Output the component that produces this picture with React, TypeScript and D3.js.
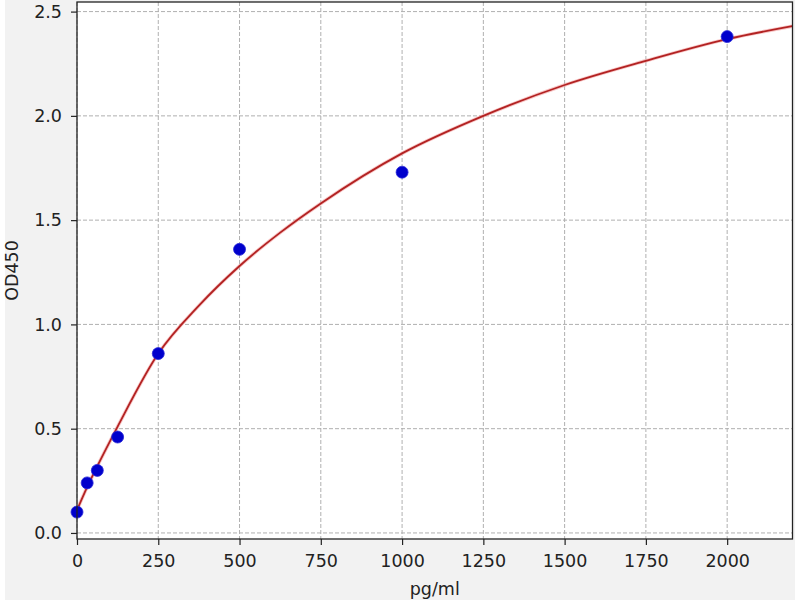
import { useEffect, useRef } from "react";
import * as d3 from "d3";

// standard concentrations (pg/ml) and measured OD450
const conc = [0, 31.25, 62.5, 125, 250, 500, 1000, 2000];
const od = [0.1, 0.24, 0.3, 0.46, 0.86, 1.36, 1.73, 2.38];

// fitted curve
const fitX = [0, 31.25, 62.5, 125, 250, 375, 500, 625, 750, 1000, 1250, 1500, 1750, 2000, 2200];
const fitY = [0.11, 0.22, 0.32, 0.51, 0.86, 1.09, 1.28, 1.44, 1.58, 1.82, 2.0, 2.148, 2.264, 2.368, 2.43];

const xTicks = [0, 250, 500, 750, 1000, 1250, 1500, 1750, 2000];
const yTicks = [0, 0.5, 1.0, 1.5, 2.0, 2.5];

const FONT = "'DejaVu Sans', sans-serif";
const FS = "17.5px";

export default function App() {
  const svgRef = useRef<SVGSVGElement>(null);

  useEffect(() => {
    document.body.style.margin = "0";
    if (!svgRef.current) return;
    const svg = d3.select(svgRef.current);
    svg.selectAll("*").remove();

    const W = 800;
    const H = 600;
    const left = 77;
    const right = 792.5;
    const top = 2;
    const bottom = 539;

    const x = d3.scaleLinear().domain([0, 2201]).range([left, right]);
    const y = d3.scaleLinear().domain([-0.029, 2.546]).range([bottom, top]);

    // figure background
    svg.append("rect").attr("width", W).attr("height", H).attr("fill", "#ffffff");
    svg
      .append("rect")
      .attr("x", 5)
      .attr("y", 0)
      .attr("width", 790)
      .attr("height", H)
      .attr("fill", "#f2f2f2");
    svg
      .append("rect")
      .attr("x", left)
      .attr("y", top)
      .attr("width", right - left)
      .attr("height", bottom - top)
      .attr("fill", "#ffffff");

    // grid
    const grid = svg.append("g").attr("stroke", "#b0b0b0").attr("stroke-width", 1).attr("stroke-dasharray", "4,2");
    grid
      .selectAll("line.gx")
      .data(xTicks)
      .join("line")
      .attr("x1", (d) => x(d))
      .attr("x2", (d) => x(d))
      .attr("y1", top)
      .attr("y2", bottom);
    grid
      .selectAll("line.gy")
      .data(yTicks)
      .join("line")
      .attr("class", "gy")
      .attr("x1", left)
      .attr("x2", right)
      .attr("y1", (d) => y(d))
      .attr("y2", (d) => y(d));

    // fitted curve
    const line = d3
      .line<number>()
      .x((_, i) => x(fitX[i]))
      .y((d) => y(d))
      .curve(d3.curveMonotoneX);
    svg
      .append("path")
      .datum(fitY)
      .attr("d", line)
      .attr("fill", "none")
      .attr("stroke", "#f4a0a0")
      .attr("stroke-width", 3.5)
      .attr("opacity", 0.6);
    svg
      .append("path")
      .datum(fitY)
      .attr("d", line)
      .attr("fill", "none")
      .attr("stroke", "#b22222")
      .attr("stroke-width", 1.8);

    // points
    svg
      .append("g")
      .selectAll("circle")
      .data(conc)
      .join("circle")
      .attr("cx", (d) => x(d))
      .attr("cy", (_, i) => y(od[i]))
      .attr("r", 6)
      .attr("fill", "#0000cc")
      .attr("stroke", "#2a2ad8")
      .attr("stroke-width", 0.8);

    // frame
    svg
      .append("rect")
      .attr("x", left)
      .attr("y", top)
      .attr("width", right - left)
      .attr("height", bottom - top)
      .attr("fill", "none")
      .attr("stroke", "#222")
      .attr("stroke-width", 1.3);

    // axes
    const xAxis = svg
      .append("g")
      .attr("transform", `translate(0,${bottom})`)
      .call(d3.axisBottom(x).tickValues(xTicks).tickSize(6).tickPadding(10).tickFormat(d3.format("d")));
    const yAxis = svg
      .append("g")
      .attr("transform", `translate(${left},0)`)
      .call(d3.axisLeft(y).tickValues(yTicks).tickSize(6).tickPadding(9).tickFormat(d3.format(".1f")));
    [xAxis, yAxis].forEach((a) => {
      a.select(".domain").remove();
      a.selectAll(".tick line").attr("stroke", "#222").attr("stroke-width", 1.2);
      a.selectAll("text")
        .attr("fill", "#222")
        .attr("font-family", FONT)
        .attr("font-size", FS);
    });

    svg
      .append("text")
      .attr("x", (left + right) / 2)
      .attr("y", 595)
      .attr("text-anchor", "middle")
      .attr("fill", "#222")
      .attr("font-family", FONT)
      .attr("font-size", FS)
      .text("pg/ml");
    svg
      .append("text")
      .attr("transform", `translate(18,${(top + bottom) / 2}) rotate(-90)`)
      .attr("text-anchor", "middle")
      .attr("fill", "#222")
      .attr("font-family", FONT)
      .attr("font-size", FS)
      .text("OD450");
  }, []);

  return <svg ref={svgRef} width={800} height={600} style={{ display: "block" }} />;
}
